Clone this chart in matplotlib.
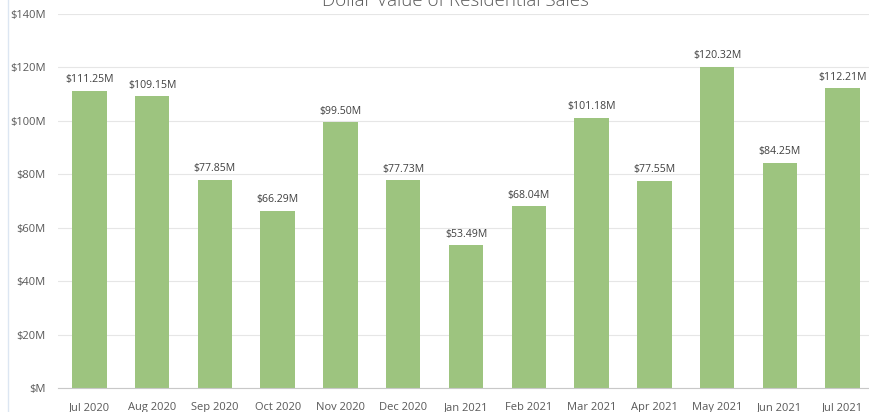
import matplotlib.pyplot as plt
from matplotlib.ticker import FuncFormatter, MultipleLocator
from matplotlib.lines import Line2D
import numpy as np

months = ['Jul 2020', 'Aug 2020', 'Sep 2020', 'Oct 2020', 'Nov 2020', 'Dec 2020',
          'Jan 2021', 'Feb 2021', 'Mar 2021', 'Apr 2021', 'May 2021', 'Jun 2021',
          'Jul 2021']
sales = [111.25, 109.15, 77.85, 66.29, 99.50, 77.73,
         53.49, 68.04, 101.18, 77.55, 120.32, 84.25,
         112.21]

plt.rcParams['font.family'] = ['Open Sans', 'DejaVu Sans']
txt_col = '#595959'

fig = plt.figure(figsize=(8.69, 4.12), dpi=100)
# plot area placed in pixel terms of the 869x412 canvas
ax = fig.add_axes([58/869, 24/412, (874-58)/869, (388-14)/412])

x = np.arange(len(months))
bars = ax.bar(x, sales, width=0.55, color='#9DC47F', zorder=2)

for b, v in zip(bars, sales):
    ax.annotate('${:.2f}M'.format(v), (b.get_x() + b.get_width()/2, v),
                xytext=(0, 4), textcoords='offset points',
                ha='center', va='bottom', fontsize=7.6, color='#404040')

ax.set_xlim(-0.5, len(months) - 0.5)
ax.set_ylim(0, 140)
ax.yaxis.set_major_locator(MultipleLocator(20))
ax.yaxis.set_major_formatter(FuncFormatter(lambda v, p: '$M' if v == 0 else '${:.0f}M'.format(v)))
ax.set_xticks(x)
ax.set_xticklabels(months)
ax.tick_params(axis='both', length=0, labelsize=8, labelcolor=txt_col)
ax.tick_params(axis='y', pad=9)
ax.tick_params(axis='x', pad=10)

ax.grid(axis='y', color='#E6E6E6', linewidth=0.8, zorder=0)
for s in ['top', 'right', 'left']:
    ax.spines[s].set_visible(False)
ax.spines['bottom'].set_color('#C8C8C8')

fig.text(455/869, 1 - 1/412, 'Dollar Value of Residential Sales', ha='center',
         va='center', fontsize=13.5, color=txt_col, fontweight='light')
fig.add_artist(Line2D([8/869, 8/869], [0, 1], transform=fig.transFigure,
                      color='#DCE6F2', linewidth=1))

fig.savefig('out.png', dpi=100)
